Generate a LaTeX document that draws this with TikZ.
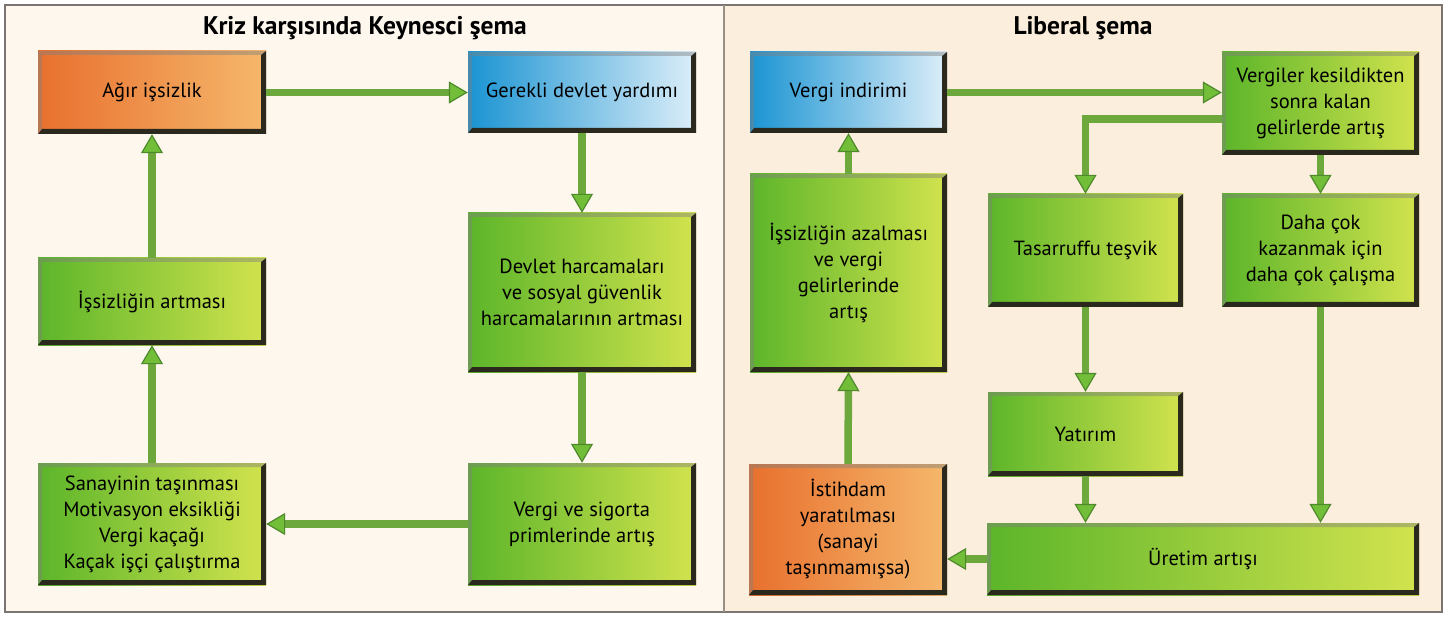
\documentclass[tikz,border=0pt]{standalone}
\usepackage{fontspec}
\setmainfont{PT Sans}
\usetikzlibrary{arrows.meta,calc}
\definecolor{bgL}{HTML}{FDF7EE}
\definecolor{bgR}{HTML}{FCEEDC}
\definecolor{gA}{HTML}{5CB52A}
\definecolor{gB}{HTML}{B2D425}
\definecolor{gC}{HTML}{D2E34E}
\definecolor{oA}{HTML}{E8702E}
\definecolor{oB}{HTML}{EF9448}
\definecolor{oC}{HTML}{F5B86C}
\definecolor{bA}{HTML}{1A94D2}
\definecolor{bB}{HTML}{6DB6E4}
\definecolor{bC}{HTML}{DDEEF9}
\definecolor{shaft}{HTML}{6DA83C}
\definecolor{headfill}{HTML}{72BE38}
\definecolor{headline}{HTML}{4E8A2C}
\definecolor{bevdark}{HTML}{2B281E}
\definecolor{frame}{HTML}{7A7570}
\definecolor{divider}{HTML}{9A8F85}
\tikzset{
  box/.style={rectangle, inner sep=0pt, align=center,
    font=\fontsize{20.5}{26}\selectfont,
    path picture={
      \fill[bevdark] (path picture bounding box.south west)
        -- (path picture bounding box.south east)
        -- (path picture bounding box.north east)
        -- ($(path picture bounding box.north east)+(-5pt,-4pt)$)
        -- ($(path picture bounding box.south east)+(-5pt,5pt)$)
        -- ($(path picture bounding box.south west)+(4pt,5pt)$) -- cycle;
      \fill[gray, opacity=0.45] (path picture bounding box.south west)
        -- (path picture bounding box.north west)
        -- (path picture bounding box.north east)
        -- ($(path picture bounding box.north east)+(-5pt,-4pt)$)
        -- ($(path picture bounding box.north west)+(4pt,-4pt)$)
        -- ($(path picture bounding box.south west)+(4pt,5pt)$) -- cycle;
    }},
  gbox/.style={box, left color=gA, middle color=gB, right color=gC},
  obox/.style={box, left color=oA, middle color=oB, right color=oC},
  bbox/.style={box, left color=bA, middle color=bB, right color=bC},
  flow/.style={draw=shaft, line width=7.5pt,
    -{Triangle[width=22pt,length=19pt,line width=1.2pt,color=headline,fill=headfill]}},
  ttl/.style={font=\fontsize{25.5}{28}\selectfont\bfseries}
}
\begin{document}
\begin{tikzpicture}[x=1pt,y=-1pt]
\useasboundingbox (0,0) rectangle (1447,617);
\fill[white] (0,0) rectangle (1447,617);
\fill[bgL] (5,5) rectangle (724,612);
\fill[bgR] (724,5) rectangle (1442,612);
\draw[frame, line width=1.4pt] (5,5) rectangle (1442,612);
\draw[divider, line width=2pt] (724,5) -- (724,612);

\node[ttl] (t1) at (365,28) {Kriz karşısında Keynesci şema};
\node[ttl] (t2) at (1083,28) {Liberal şema};

% left
\node[obox, minimum width=228pt, minimum height=83pt] (agir) at (152,92.5) {Ağır işsizlik};
\node[bbox, minimum width=228pt, minimum height=81pt] (gerekli) at (582,92.5) {Gerekli devlet yardımı};
\node[gbox, minimum width=228pt, minimum height=159pt] (devlet) at (582,292.5) {Devlet harcamaları\\ve sosyal güvenlik\\harcamalarının artması};
\node[gbox, minimum width=228pt, minimum height=122pt] (vs) at (582,524) {Vergi ve sigorta\\primlerinde artış};
\node[gbox, minimum width=228pt, minimum height=122pt] (san) at (152,524) {Sanayinin taşınması\\Motivasyon eksikliği\\Vergi kaçağı\\Kaçak işçi çalıştırma};
\node[gbox, minimum width=228pt, minimum height=87pt] (artma) at (152,301.5) {İşsizliğin artması};

\draw[flow] (agir.east) -- (gerekli.west);
\draw[flow] (gerekli.south) -- (devlet.north);
\draw[flow] (devlet.south) -- (vs.north);
\draw[flow] (vs.west) -- (san.east);
\draw[flow] (san.north) -- (artma.south);
\draw[flow] (artma.north) -- (agir.south);

% right
\node[bbox, minimum width=197pt, minimum height=81pt] (vi) at (848.5,92.5) {Vergi indirimi};
\node[gbox, minimum width=197pt, minimum height=103pt] (vk) at (1320.5,103.5) {Vergiler kesildikten\\sonra kalan\\gelirlerde artış};
\node[gbox, minimum width=195pt, minimum height=113pt] (tas) at (1085.5,250.5) {Tasarruffu teşvik};
\node[gbox, minimum width=197pt, minimum height=113pt] (dc) at (1320.5,250.5) {Daha çok\\kazanmak için\\daha çok çalışma};
\node[gbox, minimum width=197pt, minimum height=198pt] (iaz) at (848.5,273) {İşsizliğin azalması\\ve vergi\\gelirlerinde\\artış};
\node[gbox, minimum width=195pt, minimum height=84pt] (yat) at (1085.5,434) {Yatırım};
\node[obox, minimum width=198pt, minimum height=131pt] (ist) at (848,529.5) {İstihdam\\yaratılması\\(sanayi\\taşınmamışsa)};
\node[gbox, minimum width=432pt, minimum height=72pt] (ur) at (1203,559) {Üretim artışı};

\coordinate (vkl) at ($(vk.west)+(0pt,-15.5pt)$);
\draw[flow] (vi.east) -- (vi.east -| vk.west);
\draw[flow] (vkl) -| (tas.north);
\draw[flow] (vk.south) -- (dc.north);
\draw[flow] (tas.south) -- (yat.north);
\draw[flow] (yat.south) -- (yat.south |- ur.north);
\draw[flow] (dc.south) -- (dc.south |- ur.north);
\draw[flow] (ur.west) -- (ur.west -| ist.east);
\draw[flow] (ist.north) -- (iaz.south);
\draw[flow] (iaz.north) -- (vi.south);
\end{tikzpicture}
\end{document}
